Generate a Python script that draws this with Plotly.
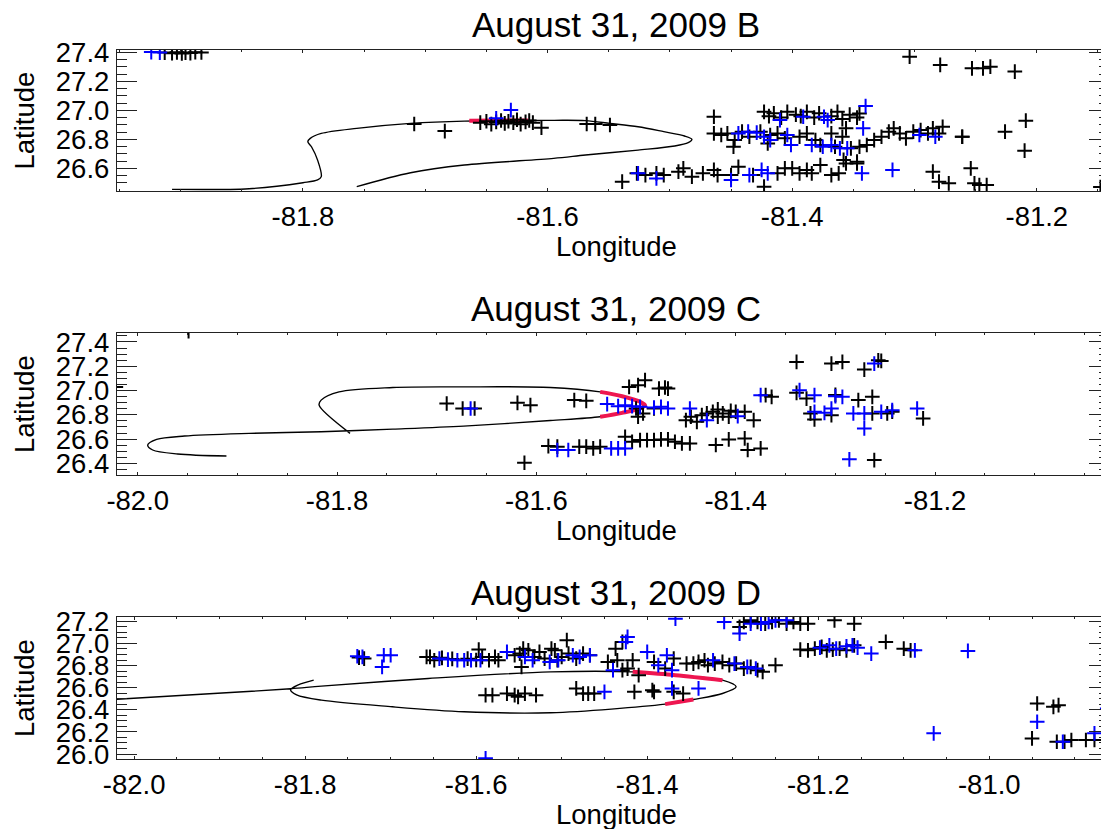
import plotly.graph_objects as go

# ---------------- Panel B ----------------
b_traj = [(-81.907, 26.455), (-81.844, 26.460), (-81.800, 26.501), (-81.788, 26.520), (-81.785, 26.543),
          (-81.788, 26.657), (-81.793, 26.749), (-81.796, 26.784), (-81.794, 26.807), (-81.785, 26.841),
          (-81.756, 26.876), (-81.712, 26.910), (-81.668, 26.926), (-81.595, 26.931), (-81.569, 26.929),
          (-81.549, 26.910), (-81.526, 26.887), (-81.505, 26.853), (-81.488, 26.823), (-81.482, 26.800),
          (-81.485, 26.777), (-81.496, 26.754), (-81.526, 26.726), (-81.569, 26.692), (-81.595, 26.669),
          (-81.668, 26.623), (-81.712, 26.570), (-81.756, 26.474)]
b_red = [(-81.664, 26.928), (-81.640, 26.930), (-81.616, 26.930)]
b_black = [(-81.913, 27.398), (-81.907, 27.394), (-81.903, 27.400), (-81.899, 27.392), (-81.896, 27.398),
           (-81.892, 27.395), (-81.888, 27.401), (-81.883, 27.399),
           (-81.709, 26.906), (-81.684, 26.857), (-81.605, 26.880), (-81.568, 26.906), (-81.561, 26.906),
           (-81.549, 26.899),
           (-81.655, 26.915), (-81.650, 26.925), (-81.646, 26.905), (-81.642, 26.920), (-81.638, 26.930),
           (-81.635, 26.910), (-81.632, 26.925), (-81.628, 26.915), (-81.625, 26.935), (-81.622, 26.905),
           (-81.618, 26.920), (-81.615, 26.930), (-81.612, 26.915),
           (-81.304, 27.370), (-81.279, 27.313), (-81.253, 27.290), (-81.244, 27.290), (-81.238, 27.301),
           (-81.218, 27.267), (-81.226, 26.853), (-81.209, 26.929), (-81.210, 26.722), (-81.261, 26.818),
           (-81.423, 26.990), (-81.419, 26.960), (-81.415, 26.980), (-81.409, 26.950), (-81.404, 26.990),
           (-81.397, 26.970), (-81.393, 26.960), (-81.388, 26.990), (-81.382, 26.950), (-81.378, 26.980),
           (-81.368, 26.960), (-81.363, 26.990), (-81.359, 26.940), (-81.353, 26.970), (-81.347, 26.950),
           (-81.464, 26.956), (-81.345, 26.979),
           (-81.464, 26.841), (-81.458, 26.830), (-81.453, 26.841), (-81.447, 26.795), (-81.441, 26.853),
           (-81.435, 26.818), (-81.426, 26.853), (-81.418, 26.830), (-81.412, 26.841), (-81.406, 26.807),
           (-81.394, 26.818), (-81.388, 26.841), (-81.381, 26.795), (-81.377, 26.761), (-81.368, 26.841),
           (-81.365, 26.749), (-81.359, 26.818), (-81.356, 26.876), (-81.352, 26.738), (-81.345, 26.749),
           (-81.339, 26.761), (-81.333, 26.795), (-81.327, 26.818), (-81.321, 26.853), (-81.317, 26.876),
           (-81.312, 26.841), (-81.307, 26.807), (-81.301, 26.853), (-81.295, 26.864), (-81.289, 26.841),
           (-81.285, 26.876), (-81.280, 26.841), (-81.277, 26.887), (-81.261, 26.818),
           (-81.448, 26.749), (-81.420, 26.772), (-81.358, 26.658), (-81.347, 26.634),
           (-81.539, 26.508), (-81.527, 26.566), (-81.520, 26.554), (-81.511, 26.566), (-81.505, 26.554),
           (-81.493, 26.577), (-81.489, 26.600), (-81.482, 26.543), (-81.473, 26.566), (-81.464, 26.589),
           (-81.461, 26.554), (-81.450, 26.554), (-81.444, 26.611), (-81.432, 26.554), (-81.423, 26.474),
           (-81.412, 26.566), (-81.406, 26.600), (-81.400, 26.600), (-81.394, 26.566), (-81.388, 26.589),
           (-81.384, 26.566), (-81.377, 26.623), (-81.368, 26.554), (-81.362, 26.566), (-81.356, 26.634),
           (-81.347, 26.646), (-81.285, 26.577), (-81.280, 26.508), (-81.272, 26.497), (-81.254, 26.600),
           (-81.251, 26.497), (-81.247, 26.485), (-81.241, 26.485), (-81.148, 26.471)]
b_blue = [(-81.924, 27.402), (-81.917, 27.398), (-81.642, 26.945), (-81.630, 27.002),
          (-81.410, 26.933), (-81.391, 26.956), (-81.374, 26.956), (-81.371, 26.933), (-81.340, 27.030),
          (-81.444, 26.841), (-81.436, 26.853), (-81.429, 26.846), (-81.423, 26.818), (-81.418, 26.795),
          (-81.404, 26.830), (-81.401, 26.761), (-81.384, 26.761), (-81.375, 26.749), (-81.368, 26.761),
          (-81.361, 26.738), (-81.355, 26.738), (-81.342, 26.876), (-81.296, 26.830), (-81.283, 26.818),
          (-81.526, 26.566), (-81.511, 26.531), (-81.450, 26.520), (-81.435, 26.554), (-81.425, 26.589),
          (-81.420, 26.566), (-81.343, 26.566), (-81.318, 26.589)]

# ---------------- Panel C ----------------
c_traj = [(-81.911, 26.460), (-81.960, 26.477), (-81.985, 26.510), (-81.990, 26.551), (-81.981, 26.597),
          (-81.953, 26.625), (-81.888, 26.647), (-81.816, 26.660), (-81.744, 26.682), (-81.673, 26.707),
          (-81.586, 26.753), (-81.536, 26.784), (-81.514, 26.816), (-81.496, 26.852), (-81.491, 26.879),
          (-81.496, 26.907), (-81.514, 26.953), (-81.536, 26.989), (-81.586, 27.025), (-81.673, 27.030),
          (-81.744, 27.025), (-81.798, 26.989), (-81.816, 26.921), (-81.818, 26.879), (-81.787, 26.647)]
c_red = [(-81.536, 26.784), (-81.514, 26.816), (-81.496, 26.852), (-81.491, 26.879), (-81.496, 26.907),
         (-81.514, 26.953), (-81.536, 26.989)]
c_black = [(-82.022, 27.030), (-81.949, 27.490),
           (-81.690, 26.893), (-81.674, 26.852), (-81.662, 26.852), (-81.619, 26.899), (-81.606, 26.879),
           (-81.588, 26.542), (-81.612, 26.405),
           (-81.562, 26.921), (-81.550, 26.915), (-81.507, 27.030), (-81.498, 27.044), (-81.491, 27.085),
           (-81.477, 27.016), (-81.471, 27.025), (-81.468, 27.016), (-81.500, 26.852), (-81.493, 26.811),
           (-81.498, 26.784), (-81.482, 26.852),
           (-81.450, 26.756), (-81.445, 26.784), (-81.439, 26.742), (-81.434, 26.797), (-81.429, 26.811),
           (-81.423, 26.825), (-81.418, 26.784), (-81.413, 26.811), (-81.407, 26.784), (-81.400, 26.825),
           (-81.391, 26.825), (-81.382, 26.756), (-81.418, 26.844), (-81.405, 26.833),
           (-81.364, 26.948), (-81.370, 26.962), (-81.339, 27.236), (-81.304, 27.222), (-81.293, 27.236),
           (-81.271, 27.173), (-81.257, 27.249), (-81.254, 27.244), (-81.339, 26.981), (-81.329, 26.934),
           (-81.325, 26.811), (-81.321, 26.762), (-81.304, 26.797), (-81.300, 26.964), (-81.277, 26.921),
           (-81.263, 26.948), (-81.263, 26.811), (-81.248, 26.811), (-81.243, 26.825), (-81.212, 26.770),
           (-81.261, 26.427),
           (-81.579, 26.537), (-81.557, 26.537), (-81.550, 26.537), (-81.543, 26.523), (-81.536, 26.537),
           (-81.511, 26.619), (-81.504, 26.578), (-81.496, 26.592), (-81.489, 26.592), (-81.482, 26.592),
           (-81.475, 26.597), (-81.468, 26.597), (-81.461, 26.578), (-81.454, 26.564), (-81.446, 26.564),
           (-81.420, 26.551), (-81.407, 26.597), (-81.391, 26.605), (-81.388, 26.510), (-81.375, 26.523)]
c_blue = [(-81.666, 26.852), (-81.579, 26.510),
          (-81.529, 26.888), (-81.518, 26.871), (-81.511, 26.879), (-81.504, 26.871), (-81.496, 26.866),
          (-81.482, 26.860), (-81.475, 26.866), (-81.468, 26.852), (-81.446, 26.852), (-81.429, 26.756),
          (-81.398, 26.789), (-81.375, 26.962), (-81.336, 27.003), (-81.321, 26.962), (-81.321, 26.825),
          (-81.311, 26.816), (-81.304, 26.852), (-81.300, 26.953), (-81.293, 26.948), (-81.282, 26.811),
          (-81.271, 26.688), (-81.271, 26.811), (-81.261, 27.222), (-81.254, 26.825), (-81.243, 26.838),
          (-81.218, 26.852), (-81.286, 26.433), (-81.568, 26.510), (-81.525, 26.523), (-81.518, 26.523),
          (-81.511, 26.523)]

# ---------------- Panel D ----------------
d_traj = [(-82.030, 26.490), (-81.907, 26.547), (-81.817, 26.590), (-81.781, 26.614), (-81.656, 26.683),
          (-81.513, 26.743), (-81.417, 26.743), (-81.367, 26.713), (-81.312, 26.668), (-81.296, 26.608),
          (-81.312, 26.547), (-81.346, 26.493), (-81.379, 26.451), (-81.513, 26.373), (-81.614, 26.382),
          (-81.698, 26.427), (-81.781, 26.487), (-81.810, 26.535), (-81.817, 26.580), (-81.808, 26.625),
          (-81.790, 26.668)]
d_red_upper = [(-81.417, 26.743), (-81.367, 26.713), (-81.312, 26.668)]
d_red_lower = [(-81.346, 26.493), (-81.362, 26.472), (-81.379, 26.451)]
d_black = [(-81.737, 26.872), (-81.731, 26.863),
           (-81.658, 26.878), (-81.654, 26.878), (-81.649, 26.848), (-81.597, 26.944), (-81.593, 26.878),
           (-81.585, 26.848), (-81.578, 26.878), (-81.574, 26.848), (-81.640, 26.870), (-81.628, 26.860),
           (-81.610, 26.862), (-81.600, 26.850),
           (-81.555, 26.893), (-81.549, 26.908), (-81.545, 26.953), (-81.547, 26.788), (-81.539, 26.938),
           (-81.532, 26.878), (-81.526, 26.923), (-81.520, 26.863), (-81.512, 26.953), (-81.505, 26.848),
           (-81.589, 26.532), (-81.581, 26.532), (-81.564, 26.547), (-81.555, 26.532), (-81.551, 26.517),
           (-81.543, 26.547), (-81.530, 26.532),
           (-81.508, 26.938), (-81.500, 26.878), (-81.492, 26.908), (-81.494, 27.029), (-81.483, 26.863),
           (-81.475, 26.908), (-81.467, 26.893), (-81.446, 26.833), (-81.435, 26.848), (-81.429, 26.758),
           (-81.423, 26.773), (-81.437, 26.953), (-81.429, 27.014), (-81.417, 26.848), (-81.410, 26.713),
           (-81.392, 26.833), (-81.369, 26.863), (-81.379, 26.773),
           (-81.483, 26.593), (-81.475, 26.547), (-81.469, 26.547), (-81.462, 26.547), (-81.415, 26.562),
           (-81.394, 26.577), (-81.392, 26.562), (-81.369, 26.562), (-81.358, 26.547),
           (-81.354, 26.818), (-81.346, 26.818), (-81.340, 26.833), (-81.333, 26.848), (-81.329, 26.803),
           (-81.321, 26.818), (-81.312, 26.833), (-81.304, 26.803), (-81.296, 26.818), (-81.287, 26.773),
           (-81.279, 26.788), (-81.271, 26.758), (-81.265, 26.743), (-81.250, 26.803),
           (-81.292, 27.149), (-81.287, 27.194), (-81.279, 27.209), (-81.271, 27.194), (-81.262, 27.179),
           (-81.254, 27.194), (-81.246, 27.209), (-81.237, 27.179), (-81.229, 27.194), (-81.221, 27.179),
           (-81.212, 27.179), (-81.181, 27.209), (-81.158, 27.179),
           (-81.221, 26.944), (-81.212, 26.938), (-81.204, 26.953), (-81.196, 26.968), (-81.190, 26.938),
           (-81.183, 26.944), (-81.175, 26.953), (-81.167, 26.938), (-81.158, 26.983), (-81.121, 27.014),
           (-81.100, 26.953), (-81.092, 26.938),
           (-80.944, 26.457), (-80.925, 26.427), (-80.919, 26.442), (-80.950, 26.141), (-80.921, 26.111),
           (-80.912, 26.111), (-80.904, 26.127), (-80.887, 26.127), (-80.877, 26.127)]
d_blue = [(-81.739, 26.884), (-81.733, 26.878), (-81.710, 26.788), (-81.708, 26.893), (-81.700, 26.893),
          (-81.589, 25.961), (-81.643, 26.863), (-81.633, 26.854), (-81.622, 26.848), (-81.614, 26.848),
          (-81.606, 26.848), (-81.595, 26.848), (-81.564, 26.923), (-81.543, 26.878), (-81.534, 26.848),
          (-81.514, 26.833), (-81.504, 26.848), (-81.487, 26.893), (-81.479, 26.878), (-81.467, 26.893),
          (-81.440, 26.758), (-81.423, 27.059), (-81.425, 27.014), (-81.400, 26.923), (-81.387, 26.803),
          (-81.377, 26.893), (-81.371, 26.758), (-81.450, 26.562), (-81.371, 26.593), (-81.340, 26.593),
          (-81.323, 26.848), (-81.298, 26.818), (-81.283, 26.788), (-81.273, 26.773),
          (-81.310, 27.194), (-81.367, 27.224), (-81.292, 27.089), (-81.279, 27.179), (-81.267, 27.179),
          (-81.258, 27.194), (-81.250, 27.209), (-81.237, 27.209),
          (-81.198, 26.962), (-81.187, 26.983), (-81.179, 26.953), (-81.167, 26.974), (-81.160, 26.983),
          (-81.154, 26.962), (-81.138, 26.908), (-81.087, 26.938), (-81.025, 26.932), (-81.065, 26.187),
          (-80.944, 26.292), (-80.914, 26.111), (-80.877, 26.187), (-80.862, 26.412)]

titles = ["August 31, 2009 B", "August 31, 2009 C", "August 31, 2009 D"]
x_ranges = [[-81.952, -81.141], [-82.0208, -81.0255], [-82.020, -80.860]]
y_ranges = [[26.444, 27.416], [26.304, 27.474], [25.955, 27.239]]
x_tickvals = [[-81.8, -81.6, -81.4, -81.2], [-82.0, -81.8, -81.6, -81.4, -81.2],
              [-82.0, -81.8, -81.6, -81.4, -81.2, -81.0]]
x_ticktext = [["-81.8", "-81.6", "-81.4", "-81.2"], ["-82.0", "-81.8", "-81.6", "-81.4", "-81.2"],
              ["-82.0", "-81.8", "-81.6", "-81.4", "-81.2", "-81.0"]]
y_tickvals = [[26.6, 26.8, 27.0, 27.2, 27.4], [26.4, 26.6, 26.8, 27.0, 27.2, 27.4],
              [26.0, 26.2, 26.4, 26.6, 26.8, 27.0, 27.2]]
y_ticktext = [["26.6", "26.8", "27.0", "27.2", "27.4"], ["26.4", "26.6", "26.8", "27.0", "27.2", "27.4"],
              ["26.0", "26.2", "26.4", "26.6", "26.8", "27.0", "27.2"]]

panels = [
    (b_traj, [b_red], b_black, b_blue),
    (c_traj, [c_red], c_black, c_blue),
    (d_traj, [d_red_upper, d_red_lower], d_black, d_blue),
]

# the page body has an 8px margin: lay out in screen pixels and shift by it
OFF = 8
SW, SH = 1109, 829
W, H = SW - OFF, SH - OFF
px_left = 117
px_right = 1109
px_rows = [(50, 191), (333, 475), (617, 759)]


def fx(px):
    return (px - OFF) / W


def fy(py):
    return 1 - (py - OFF) / H


FONT = "Liberation Sans, Arial, Helvetica, sans-serif"
BLUE = "#0000ff"
RED = "#ee1650"

fig = go.Figure()


def unzip(pts):
    return [p[0] for p in pts], [p[1] for p in pts]


annotations = []
for i, (traj, reds, black, blue) in enumerate(panels):
    sfx = "" if i == 0 else str(i + 1)
    xa, ya = "x" + sfx, "y" + sfx
    tx, ty = unzip(traj)
    fig.add_trace(go.Scatter(x=tx, y=ty, mode="lines", xaxis=xa, yaxis=ya,
                             line=dict(color="black", width=1.4, shape="spline", smoothing=0.9),
                             hoverinfo="skip"))
    for r in reds:
        rx, ry = unzip(r)
        fig.add_trace(go.Scatter(x=rx, y=ry, mode="lines", xaxis=xa, yaxis=ya,
                                 line=dict(color=RED, width=4, shape="spline", smoothing=0.9)))
    for pts, col in ((black, "black"), (blue, BLUE)):
        mx, my = unzip(pts)
        fig.add_trace(go.Scatter(x=mx, y=my, mode="markers", xaxis=xa, yaxis=ya,
                                 marker=dict(symbol="cross-thin", size=10.5, color=col,
                                             line=dict(color=col, width=2))))

    top, bot = px_rows[i]
    xkey = "xaxis" if i == 0 else "xaxis%d" % (i + 1)
    ykey = "yaxis" if i == 0 else "yaxis%d" % (i + 1)
    common = dict(showgrid=False, zeroline=False, showline=True, linecolor="#222", linewidth=1.3,
                  mirror="ticks", ticks="inside", tickcolor="#222", tickwidth=1, automargin=False,
                  tickfont=dict(family=FONT, size=27.5, color="black"), tickmode="array")
    fig.layout[xkey] = dict(common, domain=[fx(px_left), fx(px_right)], range=x_ranges[i], anchor=ya,
                            tickvals=x_tickvals[i], ticktext=x_ticktext[i], ticklen=3,
                            ticklabelstandoff=1,
                            minor=dict(dtick=0.05, tick0=0, ticklen=2, ticks="inside",
                                       tickcolor="#222", tickwidth=1))
    fig.layout[ykey] = dict(common, domain=[fy(bot), fy(top)], range=y_ranges[i], anchor=xa,
                            tickvals=y_tickvals[i], ticktext=y_ticktext[i], ticklen=20,
                            ticklabelstandoff=1,
                            minor=dict(dtick=0.05, tick0=0, ticklen=10, ticks="inside",
                                       tickcolor="#222", tickwidth=1))
    cx = fx((px_left + 1115) / 2)
    annotations.append(dict(text=titles[i], x=cx, y=fy(top - 25), xref="paper", yref="paper",
                            xanchor="center", yanchor="middle", showarrow=False,
                            font=dict(family=FONT, size=35, color="black")))
    annotations.append(dict(text="Longitude", x=cx, y=fy(bot + 55), xref="paper", yref="paper",
                            xanchor="center", yanchor="middle", showarrow=False,
                            font=dict(family=FONT, size=27.5, color="black")))
    annotations.append(dict(text="Latitude", x=fx(24), y=fy((top + bot) / 2), xref="paper",
                            yref="paper", xanchor="center", yanchor="middle", showarrow=False,
                            textangle=-90, font=dict(family=FONT, size=27.5, color="black")))

fig.update_layout(width=W, height=H, margin=dict(l=0, r=0, t=0, b=0, autoexpand=False),
                  showlegend=False, template="none",
                  paper_bgcolor="white", plot_bgcolor="white", annotations=annotations)

fig.write_html("out.html")
